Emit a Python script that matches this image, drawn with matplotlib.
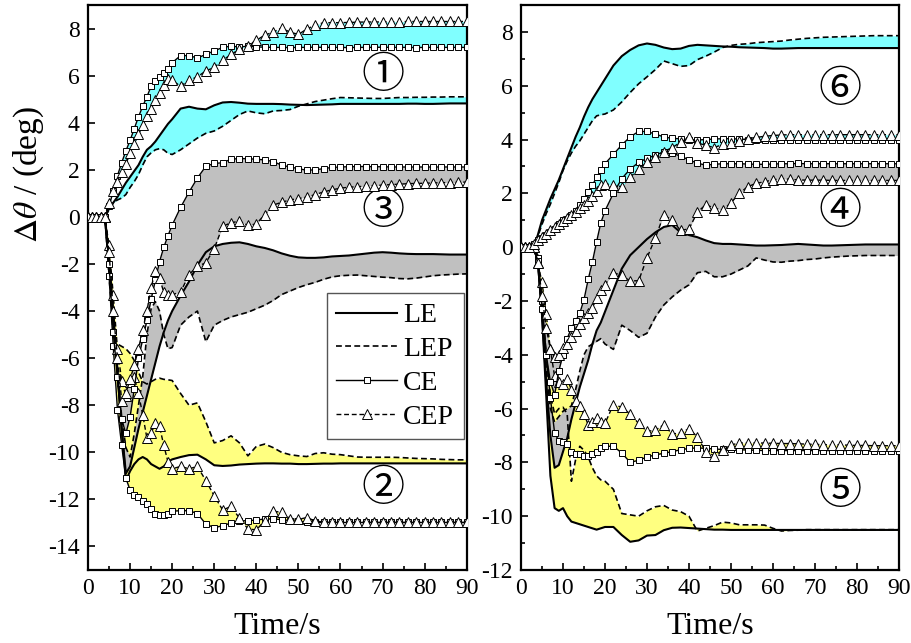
import matplotlib
matplotlib.use('Agg')
import matplotlib.pyplot as plt
from matplotlib.lines import Line2D
import numpy as np

plt.rcParams['font.family'] = ['Liberation Serif', 'DejaVu Serif']
plt.rcParams['mathtext.fontset'] = 'stix'
plt.rcParams['axes.unicode_minus'] = False

# sample times (s): every 1 s up to 20 s, then every 2 s
t = list(range(0, 21)) + list(range(22, 91, 2))

# ---- left panel ----
# group 1 (cyan)
le1 = [0, 0, 0, 0, 0, 0.35, 0.6, 0.85, 1.15, 1.45, 1.7, 1.95, 2.2, 2.55, 2.85, 3.0, 3.2, 3.45, 3.7, 3.95, 4.15,
       4.6, 4.68, 4.6, 4.57, 4.74, 4.86, 4.88, 4.85, 4.81, 4.8, 4.8, 4.8, 4.79, 4.77, 4.76, 4.75, 4.76, 4.77, 4.78, 4.8,
       4.8, 4.8, 4.8, 4.8, 4.8, 4.8, 4.8, 4.81, 4.81, 4.8, 4.8, 4.81, 4.82, 4.82, 4.82]
lep1 = [0, 0, 0, 0, 0, 0.3, 0.6, 0.72, 0.8, 0.95, 1.25, 1.5, 1.8, 2.2, 2.55, 2.72, 2.85, 2.9, 2.85, 2.7, 2.65,
        2.85, 3.1, 3.35, 3.55, 3.65, 3.85, 4.1, 4.35, 4.5, 4.42, 4.38, 4.5, 4.52, 4.56, 4.7, 4.8, 4.9, 4.96, 5.02, 5.07,
        5.06, 5.05, 5.04, 5.03, 5.03, 5.05, 5.07, 5.07, 5.08, 5.08, 5.09, 5.09, 5.1, 5.1, 5.1]
ce1 = [0, 0, 0, 0, 0, 0.45, 1.1, 1.75, 2.3, 2.8, 3.25, 3.75, 4.25, 4.7, 5.1, 5.55, 5.78, 5.95, 6.12, 6.3, 6.55,
       6.85, 6.85, 6.75, 6.9, 7.05, 7.2, 7.25, 7.22, 7.25, 7.22, 7.21, 7.2, 7.2, 7.19, 7.2, 7.2, 7.21, 7.2, 7.2, 7.2,
       7.19, 7.2, 7.2, 7.2, 7.21, 7.2, 7.2, 7.2, 7.19, 7.2, 7.2, 7.2, 7.2, 7.2, 7.2]
cep1 = [0, 0, 0, 0, 0, 0.6, 1.1, 1.5, 1.9, 2.25, 2.7, 3.1, 3.5, 3.9, 4.3, 4.6, 4.95, 5.25, 5.6, 5.85, 5.8,
        5.55, 5.8, 5.95, 6.2, 6.35, 6.65, 6.9, 7.12, 7.28, 7.5, 7.72, 7.85, 8.02, 7.85, 7.75, 7.98, 8.15, 8.25, 8.25, 8.25,
        8.26, 8.27, 8.28, 8.28, 8.28, 8.29, 8.29, 8.3, 8.3, 8.3, 8.3, 8.3, 8.3, 8.3, 8.3]
# group 2 (yellow)
le2 = [0, 0, 0, 0, 0, -1.8, -4.2, -6.6, -9.0, -11.2, -10.8, -10.5, -10.3, -10.2, -10.3, -10.5, -10.6, -10.7, -10.6, -10.4, -10.3,
       -10.2, -10.12, -10.1, -10.3, -10.55, -10.58, -10.56, -10.52, -10.5, -10.48, -10.47, -10.47, -10.48, -10.48, -10.5,
       -10.5, -10.49, -10.48, -10.48, -10.47, -10.47, -10.47, -10.47, -10.47, -10.47, -10.47, -10.47, -10.47, -10.47,
       -10.47, -10.47, -10.47, -10.47, -10.47, -10.47]
lep2 = [0, 0, 0, 0, 0, -2.5, -5.0, -5.4, -5.5, -5.6, -5.8, -6.1, -6.6, -7.0, -7.1, -7.0, -6.9, -6.85, -6.9, -6.92, -6.95,
        -7.5, -8.0, -7.9, -8.7, -9.6, -9.5, -9.3, -9.6, -10.15, -9.75, -9.65, -9.8, -10.0, -10.1, -10.15, -10.18, -10.05,
        -10.02, -10.08, -10.1, -10.15, -10.2, -10.21, -10.21, -10.21, -10.21, -10.22, -10.24, -10.26, -10.27, -10.28,
        -10.3, -10.31, -10.32, -10.32]
ce2 = [0, 0, 0, 0, 0, -2.5, -5.5, -8.2, -9.7, -11.1, -11.6, -11.8, -11.9, -12.05, -12.2, -12.4, -12.6, -12.65, -12.65, -12.6, -12.5,
       -12.48, -12.48, -12.6, -13.05, -13.2, -13.12, -13.0, -12.92, -12.9, -12.88, -12.83, -12.83, -12.86, -12.9, -12.93,
       -12.96, -12.98, -12.98, -12.98, -12.98, -12.98, -12.98, -12.98, -12.98, -12.98, -12.98, -12.98, -12.98, -12.98,
       -12.98, -12.98, -12.98, -12.98, -12.98, -12.98]
cep2 = [0, 0, 0, 0, 0, -1.2, -3.3, -5.6, -6.95, -7.6, -7.0, -6.8, -7.5, -8.4, -9.4, -9.2, -8.75, -8.9, -9.7, -10.4, -10.7,
        -10.6, -10.7, -10.6, -11.2, -11.85, -12.45, -12.3, -12.8, -13.25, -13.3, -12.9, -12.5, -12.55, -12.82, -12.85,
        -12.77, -12.92, -12.96, -12.98, -12.98, -12.98, -12.98, -12.98, -12.98, -12.98, -12.98, -12.98, -12.98, -12.98,
        -12.98, -12.98, -12.98, -12.98, -12.98, -12.98]
# group 3 (grey)
le3 = [0, 0, 0, 0, 0, -1.8, -4.2, -6.6, -9.0, -10.9, -10.6, -9.8, -9.0, -8.3, -7.6, -6.9, -6.2, -5.5, -4.9, -4.4, -4.0,
       -3.35, -2.75, -2.05, -1.5, -1.25, -1.15, -1.1, -1.08, -1.15, -1.25, -1.32, -1.42, -1.55, -1.65, -1.72, -1.74, -1.74,
       -1.72, -1.68, -1.66, -1.64, -1.6, -1.56, -1.52, -1.5, -1.52, -1.55, -1.57, -1.58, -1.58, -1.58, -1.59, -1.6, -1.6, -1.6]
lep3 = [0, 0, 0, 0, 0, -1.5, -4.0, -6.5, -8.5, -9.8, -10.2, -9.2, -8.0, -6.8, -5.0, -3.9, -3.6, -4.0, -5.0, -5.6, -5.55,
        -4.6, -4.25, -4.0, -5.3, -4.6, -4.4, -4.25, -4.15, -4.05, -3.9, -3.75, -3.55, -3.3, -3.15, -3.0, -2.88, -2.78,
        -2.65, -2.55, -2.5, -2.48, -2.47, -2.5, -2.53, -2.56, -2.58, -2.62, -2.63, -2.6, -2.55, -2.5, -2.47, -2.45, -2.43, -2.42]
ce3 = [0, 0, 0, 0, 0, -2.0, -4.9, -6.8, -8.6, -9.2, -8.5, -7.3, -6.0, -5.2, -4.4, -3.5, -2.7, -1.9, -1.3, -0.8, -0.35,
       0.4, 1.05, 1.65, 2.15, 2.27, 2.3, 2.45, 2.48, 2.47, 2.45, 2.42, 2.35, 2.2, 2.12, 2.05, 1.98, 2.0, 2.05, 2.1, 2.12,
       2.13, 2.14, 2.14, 2.13, 2.13, 2.12, 2.12, 2.12, 2.12, 2.12, 2.12, 2.12, 2.12, 2.12, 2.12]
cep3 = [0, 0, 0, 0, 0, -1.5, -4.0, -6.0, -7.8, -7.5, -6.9, -6.3, -5.6, -4.8, -4.0, -3.0, -2.3, -2.6, -3.2, -3.3, -3.3,
        -3.2, -2.45, -2.1, -1.95, -1.35, -0.4, -0.25, -0.18, -0.36, -0.3, 0.1, 0.5, 0.62, 0.72, 0.78, 0.84, 0.95, 1.06,
        1.15, 1.22, 1.26, 1.28, 1.31, 1.33, 1.35, 1.37, 1.39, 1.41, 1.42, 1.43, 1.44, 1.45, 1.46, 1.47, 1.48]

# ---- right panel ----
# group 6 (cyan)
le6 = [0, 0, 0, 0, 0.45, 1.0, 1.4, 1.8, 2.15, 2.5, 2.9, 3.3, 3.7, 4.1, 4.45, 4.85, 5.2, 5.5, 5.75, 6.0, 6.25,
       6.75, 7.1, 7.33, 7.5, 7.57, 7.52, 7.42, 7.36, 7.38, 7.48, 7.52, 7.5, 7.48, 7.46, 7.45, 7.43, 7.42, 7.41, 7.4, 7.38,
       7.38, 7.39, 7.4, 7.4, 7.4, 7.4, 7.4, 7.4, 7.4, 7.4, 7.4, 7.4, 7.4, 7.4, 7.4]
lep6 = [0, 0, 0, 0, 0.4, 0.85, 1.25, 1.6, 2.0, 2.4, 2.85, 3.2, 3.5, 3.75, 3.95, 4.2, 4.45, 4.7, 4.88, 4.92, 4.95,
        5.1, 5.4, 5.75, 6.07, 6.33, 6.6, 6.92, 6.82, 6.72, 6.75, 6.97, 7.1, 7.25, 7.42, 7.5, 7.54, 7.56, 7.6, 7.62, 7.64,
        7.66, 7.7, 7.73, 7.76, 7.78, 7.8, 7.81, 7.82, 7.83, 7.84, 7.85, 7.86, 7.86, 7.86, 7.86]
ce6 = [0, 0, 0, 0.1, 0.25, 0.35, 0.44, 0.55, 0.68, 0.85, 1.0, 1.06, 1.2, 1.35, 1.55, 1.8, 2.05, 2.3, 2.6, 2.85, 3.1,
       3.45, 3.8, 4.1, 4.3, 4.3, 4.2, 4.1, 4.04, 4.03, 4.0, 3.98, 4.0, 4.02, 4.03, 4.03, 4.02, 4.0, 3.99, 3.98, 3.98,
       3.98, 3.99, 4.0, 4.0, 4.0, 4.0, 4.0, 4.0, 4.0, 4.0, 4.0, 4.0, 4.0, 4.0, 4.0]
cep6 = [0, 0, 0, 0.1, 0.25, 0.37, 0.5, 0.62, 0.75, 0.87, 0.98, 1.1, 1.2, 1.32, 1.45, 1.58, 1.7, 1.9, 2.1, 2.3, 2.36,
        2.3, 2.25, 2.6, 2.9, 3.15, 3.35, 3.55, 3.7, 3.9, 4.08, 3.88, 3.78, 3.7, 3.82, 3.88, 3.96, 4.03, 4.08, 4.12, 4.15,
        4.17, 4.18, 4.18, 4.18, 4.18, 4.18, 4.18, 4.18, 4.18, 4.18, 4.18, 4.18, 4.18, 4.18, 4.18]
# group 4 (grey)
le4 = [0, 0, 0, 0, -0.5, -2.5, -5.0, -7.0, -8.2, -8.1, -7.6, -7.1, -6.4, -5.8, -5.2, -4.7, -4.2, -3.6, -3.1, -2.8, -2.4,
       -1.6, -0.8, -0.3, 0.0, 0.3, 0.55, 0.75, 0.82, 0.55, 0.45, 0.37, 0.25, 0.15, 0.12, 0.12, 0.1, 0.08, 0.06, 0.06, 0.07,
       0.08, 0.1, 0.12, 0.1, 0.08, 0.06, 0.06, 0.07, 0.08, 0.09, 0.1, 0.1, 0.1, 0.1, 0.1]
lep4 = [0, 0, 0, 0, -0.5, -2.5, -4.5, -6.0, -6.5, -6.3, -6.1, -6.0, -5.9, -5.3, -4.6, -4.0, -3.7, -3.6, -3.5, -3.4, -3.6,
        -3.8, -2.9, -3.1, -3.35, -3.2, -2.6, -2.15, -1.85, -1.6, -1.4, -0.95, -0.9, -1.1, -1.1, -1.0, -0.85, -0.7, -0.4,
        -0.48, -0.55, -0.56, -0.52, -0.5, -0.46, -0.44, -0.4, -0.37, -0.35, -0.33, -0.32, -0.31, -0.31, -0.31, -0.31, -0.31]
ce4 = [0, 0, 0, 0, -0.5, -2.3, -4.0, -5.0, -5.5, -4.6, -4.0, -3.4, -3.0, -2.75, -2.45, -1.95, -1.2, -0.55, 0.2, 0.9, 1.35,
       2.0, 2.55, 2.9, 3.15, 3.3, 3.42, 3.55, 3.5, 3.38, 3.25, 3.12, 3.05, 3.08, 3.1, 3.1, 3.1, 3.09, 3.08, 3.08, 3.09,
       3.1, 3.1, 3.11, 3.1, 3.1, 3.1, 3.1, 3.1, 3.1, 3.1, 3.1, 3.1, 3.1, 3.1, 3.1]
cep4 = [0, 0, 0, 0, -0.6, -1.8, -3.0, -3.8, -4.1, -4.0, -3.75, -3.6, -3.35, -3.1, -2.85, -2.65, -2.45, -2.25, -1.9, -1.6, -1.4,
        -0.95, -1.05, -1.25, -1.25, -0.4, 0.35, 1.2, 1.0, 0.62, 0.68, 1.3, 1.58, 1.45, 1.38, 1.65, 2.0, 2.25, 2.37, 2.43,
        2.5, 2.55, 2.52, 2.5, 2.49, 2.49, 2.49, 2.48, 2.48, 2.48, 2.48, 2.48, 2.48, 2.48, 2.48, 2.48]
# group 5 (yellow)
le5 = [0, 0, 0, 0, -0.5, -2.5, -5.5, -8.5, -9.7, -9.8, -9.7, -10.0, -10.2, -10.25, -10.3, -10.35, -10.4, -10.45, -10.5, -10.45, -10.4,
       -10.4, -10.7, -10.95, -10.9, -10.72, -10.7, -10.52, -10.43, -10.42, -10.44, -10.46, -10.48, -10.5, -10.5, -10.51,
       -10.51, -10.51, -10.51, -10.51, -10.51, -10.51, -10.51, -10.51, -10.51, -10.51, -10.51, -10.51, -10.51, -10.51,
       -10.51, -10.51, -10.51, -10.51, -10.51, -10.51]
lep5 = [0, 0, 0, 0, -0.3, -2.0, -4.0, -5.5, -6.2, -6.0, -5.95, -6.2, -8.7, -7.9, -7.4, -7.55, -7.8, -8.2, -8.5, -8.65, -8.7,
        -9.0, -9.9, -9.95, -10.0, -9.8, -9.65, -9.6, -9.77, -9.83, -10.0, -10.55, -10.45, -10.35, -10.22, -10.25, -10.32,
        -10.32, -10.32, -10.33, -10.45, -10.55, -10.53, -10.52, -10.5, -10.5, -10.5, -10.5, -10.5, -10.5, -10.5, -10.5,
        -10.5, -10.5, -10.5, -10.5]
ce5 = [0, 0, 0, 0, -0.4, -2.0, -4.0, -5.6, -6.9, -7.2, -7.25, -7.3, -7.6, -7.7, -7.7, -7.75, -7.75, -7.7, -7.6, -7.45, -7.4,
       -7.4, -7.65, -8.0, -7.92, -7.8, -7.72, -7.66, -7.6, -7.53, -7.48, -7.46, -7.48, -7.5, -7.52, -7.52, -7.53, -7.54,
       -7.55, -7.56, -7.56, -7.56, -7.56, -7.56, -7.56, -7.56, -7.56, -7.56, -7.56, -7.56, -7.56, -7.56, -7.56, -7.56,
       -7.56, -7.56]
cep5 = [0, 0, 0, 0, -0.6, -1.3, -2.5, -3.8, -4.8, -5.0, -5.1, -4.9, -5.3, -5.7, -5.9, -6.2, -6.6, -6.5, -6.35, -6.5, -6.55,
        -5.85, -5.95, -6.2, -6.55, -6.85, -6.8, -6.6, -6.95, -6.9, -6.75, -7.05, -7.6, -7.75, -7.55, -7.35, -7.28, -7.28,
        -7.28, -7.28, -7.29, -7.3, -7.3, -7.31, -7.32, -7.33, -7.34, -7.35, -7.35, -7.36, -7.37, -7.37, -7.38, -7.38,
        -7.38, -7.38]

CYAN = '#80ffff'
GREY = '#c0c0c0'
YELLOW = '#ffff80'
DASH = (0, (3.5, 2))


def draw_group(ax, le, lep, ce, cep, color):
    ax.fill_between(t, le, lep, color=color, lw=0, zorder=1)
    ax.fill_between(t, ce, cep, color=color, lw=0, zorder=1)
    ax.plot(t, le, color='k', lw=1.5, zorder=3)
    ax.plot(t, lep, color='k', lw=1.2, ls=DASH, zorder=3)
    ax.plot(t, ce, color='k', lw=1.0, marker='s', ms=5, mfc='white', mec='k', mew=0.7, zorder=4)
    ax.plot(t, cep, color='k', lw=1.0, ls=DASH, marker='^', ms=6.5, mfc='white', mec='k', mew=0.7, zorder=4)


def style_axes(ax, ylim, yticks):
    ax.set_xlim(0, 90)
    ax.set_ylim(*ylim)
    ax.set_xticks(range(0, 91, 10))
    ax.set_xticks(range(5, 90, 10), minor=True)
    ax.set_yticks(yticks)
    ax.set_yticks(range(ylim[0] + 1, ylim[1], 2), minor=True)
    ax.tick_params(which='both', direction='in', top=False, right=False, labelsize=17, width=1.2)
    ax.tick_params(which='major', length=5, pad=6)
    ax.tick_params(which='minor', length=3)
    for s in ax.spines.values():
        s.set_linewidth(1.6)
    ax.set_xlabel('Time/s', fontsize=23, labelpad=9)


fig = plt.figure(figsize=(9.11, 6.43), dpi=100)
ax1 = fig.add_axes([0.0966, 0.1135, 0.4157, 0.8787])
ax2 = fig.add_axes([0.5719, 0.1135, 0.4149, 0.8787])

# yellow first, grey over it, cyan last
draw_group(ax1, le2, lep2, ce2, cep2, YELLOW)
draw_group(ax1, le3, lep3, ce3, cep3, GREY)
draw_group(ax1, le1, lep1, ce1, cep1, CYAN)
style_axes(ax1, (-15, 9), range(-14, 9, 2))
ax1.set_ylabel(r'$\Delta\theta$ / (deg)', fontsize=24)
ax1.yaxis.set_label_coords(-0.11, 0.70)

draw_group(ax2, le5, lep5, ce5, cep5, YELLOW)
draw_group(ax2, le4, lep4, ce4, cep4, GREY)
draw_group(ax2, le6, lep6, ce6, cep6, CYAN)
style_axes(ax2, (-12, 9), range(-12, 9, 2))

circ_font = ['Noto Sans CJK JP', 'DejaVu Sans']
for ax, labels in ((ax1, [('①', 70, 6.0), ('③', 70, 0.2), ('②', 70, -11.55)]),
                   (ax2, [('⑥', 76, 5.85), ('④', 76, 1.3), ('⑤', 76, -9.1)])):
    for s, x, y in labels:
        ax.text(x, y, s, fontsize=31, ha='center', va='center', family=circ_font)

handles = [
    Line2D([], [], color='k', lw=1.5),
    Line2D([], [], color='k', lw=1.2, ls=DASH),
    Line2D([], [], color='k', lw=1.0, marker='s', ms=5, mfc='white', mec='k', mew=0.7),
    Line2D([], [], color='k', lw=1.0, ls=DASH, marker='^', ms=6.5, mfc='white', mec='k', mew=0.7),
]
leg = ax1.legend(handles, ['LE', 'LEP', 'CE', 'CEP'], loc='upper left', bbox_to_anchor=(0.63, 0.49),
                 borderaxespad=0, fontsize=20, handlelength=2.2, labelspacing=0.3, borderpad=0.35,
                 handletextpad=0.2, fancybox=False, framealpha=1, edgecolor='#555555', numpoints=1)
leg.get_frame().set_linewidth(1.0)

fig.savefig('out.png', dpi=100)
